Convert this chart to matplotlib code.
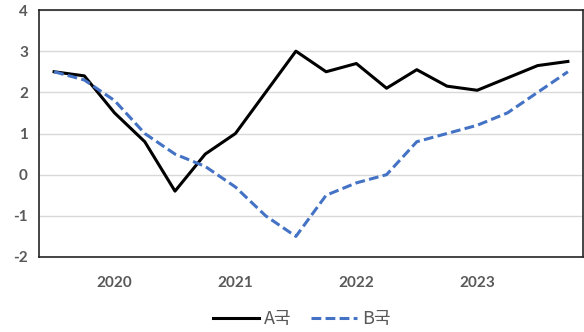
import matplotlib.pyplot as plt
import numpy as np

plt.rcParams['axes.unicode_minus'] = False

# quarterly series, 2019 Q3 .. 2023 Q4
a_country = [2.5, 2.4, 1.5, 0.8, -0.4, 0.5, 1.0, 2.0, 3.0,
             2.5, 2.7, 2.1, 2.55, 2.15, 2.05, 2.35, 2.65, 2.75]
b_country = [2.5, 2.3, 1.8, 1.0, 0.5, 0.2, -0.3, -1.0, -1.5,
             -0.5, -0.2, 0.0, 0.8, 1.0, 1.2, 1.5, 2.0, 2.5]
year_labels = ['2020', '2021', '2022', '2023']
year_pos = [2, 6, 10, 14]
series_names = ['A국', 'B국']

tick_gray = '#595959'

fig = plt.figure(figsize=(5.84, 3.32), dpi=100)
ax = fig.add_axes([39 / 584, 1 - 257 / 332, 544 / 584, 247 / 332])

x = np.arange(len(a_country))
ax.plot(x, a_country, color='black', lw=2.2, label=series_names[0], zorder=3)
ax.plot(x, b_country, color='#4472C4', lw=2.2, ls=(0, (3.2, 1.4)),
        label=series_names[1], zorder=3)

ax.set_xlim(-0.5, len(a_country) - 0.5)
ax.set_ylim(-2, 4)
ax.set_yticks(range(-2, 5))
ax.set_xticks(year_pos)
ax.set_xticklabels(year_labels)

ax.grid(axis='y', color='#d9d9d9', lw=1)
ax.set_axisbelow(True)
for s in ax.spines.values():
    s.set_color('#262626')
    s.set_linewidth(1.2)

ax.tick_params(length=0, pad=8)
ax.tick_params(axis='x', pad=14)
for lbl in ax.get_xticklabels() + ax.get_yticklabels():
    lbl.set_fontfamily('Lato')
    lbl.set_fontweight('bold')
    lbl.set_fontsize(11)
    lbl.set_color(tick_gray)

leg = fig.legend(loc='center', bbox_to_anchor=(302 / 584, 1 - 319 / 332), ncol=2,
                 frameon=False, handlelength=2.55, handletextpad=0.25,
                 columnspacing=1.1, borderpad=0, borderaxespad=0,
                 prop={'family': ['Noto Sans CJK KR', 'DejaVu Sans'], 'size': 13})
for t in leg.get_texts():
    t.set_color(tick_gray)

fig.savefig('out.png', dpi=100)
